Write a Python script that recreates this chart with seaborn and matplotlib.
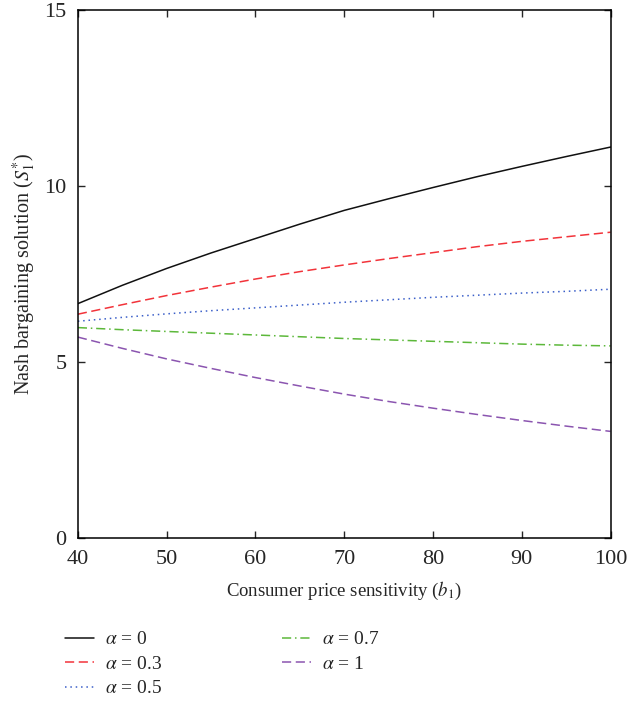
import matplotlib
matplotlib.use("Agg")
import pandas as pd
import matplotlib.pyplot as plt
import seaborn as sns

# consumer price sensitivity b1
b1 = [40, 45, 50, 55, 60, 65, 70, 75, 80, 85, 90, 95, 100]

# Nash bargaining solution S1* for each alpha
s_alpha_0 = [6.65, 7.17, 7.65, 8.09, 8.50, 8.91, 9.30, 9.63, 9.95, 10.26, 10.55, 10.83, 11.10]
s_alpha_03 = [6.35, 6.62, 6.88, 7.12, 7.35, 7.56, 7.75, 7.93, 8.10, 8.27, 8.42, 8.55, 8.68]
s_alpha_05 = [6.15, 6.26, 6.36, 6.45, 6.53, 6.61, 6.69, 6.76, 6.83, 6.89, 6.95, 7.00, 7.06]
s_alpha_07 = [5.97, 5.91, 5.86, 5.81, 5.76, 5.71, 5.66, 5.62, 5.58, 5.54, 5.50, 5.47, 5.45]
s_alpha_1 = [5.70, 5.38, 5.08, 4.81, 4.55, 4.31, 4.08, 3.87, 3.68, 3.50, 3.33, 3.17, 3.02]

labels = [r"$\alpha$ = 0", r"$\alpha$ = 0.3", r"$\alpha$ = 0.5", r"$\alpha$ = 0.7", r"$\alpha$ = 1"]
series = [s_alpha_0, s_alpha_03, s_alpha_05, s_alpha_07, s_alpha_1]

colors = ["#111111", "#f2333a", "#3b5fc9", "#5cb83a", "#8b55b0"]
dashes = [(None, None), (6, 3), (1, 2.5), (6, 2.5, 1, 2.5), (6, 3)]

sns.set_style("ticks")
plt.rcParams["font.family"] = ["Liberation Serif", "DejaVu Serif"]
plt.rcParams["mathtext.fontset"] = "stix"

rows = []
for lab, vals in zip(labels, series):
    for x, y in zip(b1, vals):
        rows.append({"b1": x, "S1": y, "Alpha": lab})
df = pd.DataFrame(rows)

fig = plt.figure(figsize=(6.38, 7.01), dpi=100)
ax = fig.add_axes([0.122, 0.233, 0.835, 0.753])

for lab, col, ds in zip(labels, colors, dashes):
    sub = df[df["Alpha"] == lab]
    sns.lineplot(x="b1", y="S1", data=sub, ax=ax, color=col, linewidth=1.1,
                 label=lab, legend=False)
    ln = ax.lines[-1]
    if ds[0] is None:
        ln.set_linestyle("-")
    else:
        ln.set_dashes(ds)

ax.set_xlim(40, 100)
ax.set_ylim(0, 15)
ax.set_xticks([40, 50, 60, 70, 80, 90, 100])
ax.set_yticks([0, 5, 10, 15])
ax.tick_params(direction="in", top=True, right=True, labelsize=16, length=5, width=1)
ax.tick_params(axis="x", pad=9)
ax.tick_params(axis="y", pad=8)
for sp in ax.spines.values():
    sp.set_linewidth(1.1)
    sp.set_color("black")

ax.set_xlabel(r"Consumer price sensitivity ($b_1$)", fontsize=13.5, labelpad=8)
ax.set_ylabel(r"Nash bargaining solution ($S_1^{*}$)", fontsize=14.5, labelpad=5)

handles = ax.lines[-5:]
fig.legend(handles, labels, loc="upper left", bbox_to_anchor=(0.074, 0.125), ncol=2,
           frameon=False, fontsize=14, handlelength=1.5, columnspacing=6.2,
           labelspacing=0.35, handletextpad=0.55)

fig.savefig("out.png", dpi=100)
